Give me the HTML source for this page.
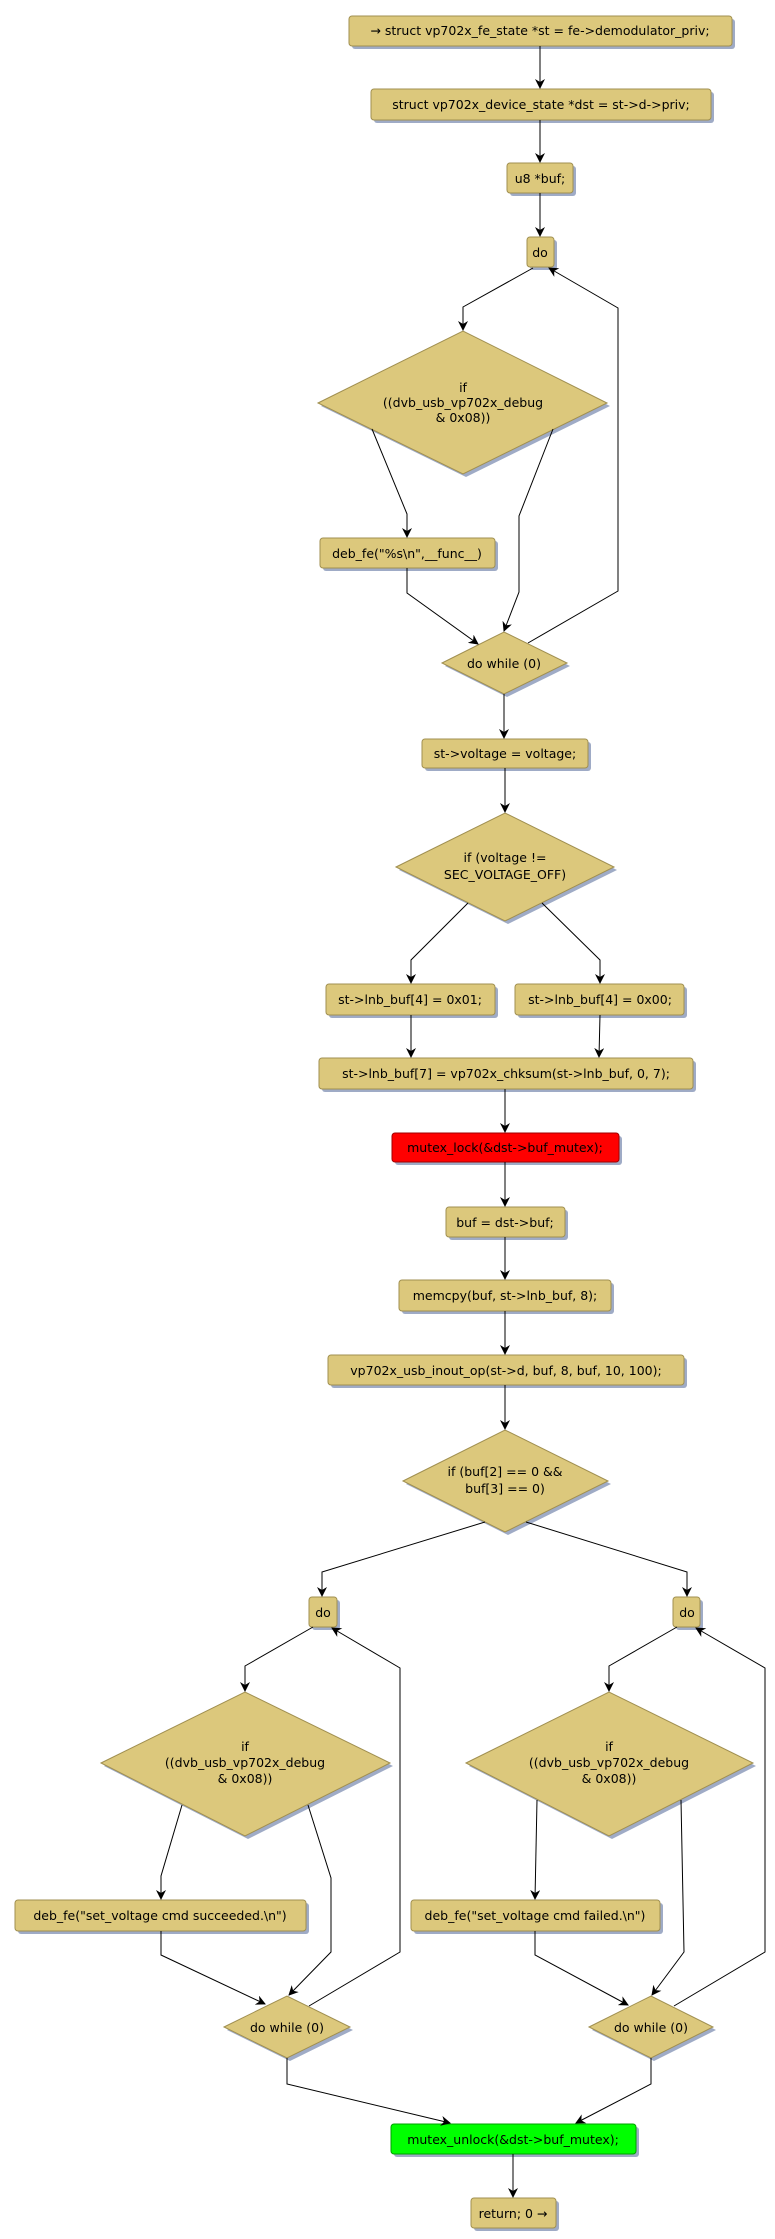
<!DOCTYPE html>
<html><head><meta charset="utf-8"><style>
html,body{margin:0;padding:0;background:#fff}
svg{display:block}
text{font-family:"DejaVu Sans","Liberation Sans",sans-serif;font-size:12.5px;fill:#000;text-anchor:middle}
.b{fill:#dcc87c;stroke:#a08f50;stroke-width:1}
.s{fill:#9fabc6}
.l{fill:none;stroke:#000;stroke-width:1}
</style></head><body>
<svg width="775" height="2239" viewBox="0 0 775 2239" xmlns="http://www.w3.org/2000/svg">
<defs><marker id="a" markerWidth="10" markerHeight="10" refX="9" refY="5" orient="auto" markerUnits="userSpaceOnUse"><path d="M0,0 L10,5 L0,10 L3,5 z" fill="#000"/></marker></defs>

<!-- boxes: shadow then box -->
<g>
<rect class="s" x="352" y="19" width="383" height="30" rx="3"/><rect class="b" x="349" y="16" width="383" height="30" rx="3"/><text x="540" y="35">→ struct vp702x_fe_state *st = fe-&gt;demodulator_priv;</text>
<rect class="s" x="374" y="92" width="340" height="31" rx="3"/><rect class="b" x="371" y="89" width="340" height="31" rx="3"/><text x="541" y="109">struct vp702x_device_state *dst = st-&gt;d-&gt;priv;</text>
<rect class="s" x="510" y="166" width="66" height="30" rx="3"/><rect class="b" x="507" y="163" width="66" height="30" rx="3"/><text x="540" y="183">u8 *buf;</text>
<rect class="s" x="530" y="240" width="27" height="30" rx="3"/><rect class="b" x="527" y="237" width="27" height="30" rx="3"/><text x="540" y="257">do</text>

<polygon class="s" points="321,406 466,334 610,406 466,477"/><polygon class="b" points="318,403 463,331 607,403 463,474"/>
<text x="463" y="392">if</text><text x="463" y="407">((dvb_usb_vp702x_debug</text><text x="463" y="422">&amp; 0x08))</text>

<rect class="s" x="323" y="541" width="175" height="30" rx="3"/><rect class="b" x="320" y="538" width="175" height="30" rx="3"/><text x="407" y="558">deb_fe("%s\n",__func__)</text>

<polygon class="s" points="445,666 507,635 570,666 507,697"/><polygon class="b" points="442,663 504,632 567,663 504,694"/><text x="504" y="668">do while (0)</text>

<rect class="s" x="425" y="742" width="166" height="29" rx="3"/><rect class="b" x="422" y="739" width="166" height="29" rx="3"/><text x="505" y="758">st-&gt;voltage = voltage;</text>

<polygon class="s" points="399,870 508,816 617,870 508,924"/><polygon class="b" points="396,867 505,813 614,867 505,921"/>
<text x="505" y="862">if (voltage !=</text><text x="505" y="879">SEC_VOLTAGE_OFF)</text>

<rect class="s" x="329" y="987" width="169" height="31" rx="3"/><rect class="b" x="326" y="984" width="169" height="31" rx="3"/><text x="410" y="1004">st-&gt;lnb_buf[4] = 0x01;</text>
<rect class="s" x="518" y="987" width="169" height="31" rx="3"/><rect class="b" x="515" y="984" width="169" height="31" rx="3"/><text x="600" y="1004">st-&gt;lnb_buf[4] = 0x00;</text>

<rect class="s" x="322" y="1061" width="374" height="31" rx="3"/><rect class="b" x="319" y="1058" width="374" height="31" rx="3"/><text x="506" y="1078">st-&gt;lnb_buf[7] = vp702x_chksum(st-&gt;lnb_buf, 0, 7);</text>

<rect class="s" x="395" y="1136" width="227" height="29" rx="3"/><rect x="392" y="1133" width="227" height="29" rx="3" fill="#ff0000" stroke="#a00000"/><text x="505" y="1152">mutex_lock(&amp;dst-&gt;buf_mutex);</text>

<rect class="s" x="449" y="1210" width="119" height="30" rx="3"/><rect class="b" x="446" y="1207" width="119" height="30" rx="3"/><text x="505" y="1227">buf = dst-&gt;buf;</text>

<rect class="s" x="402" y="1283" width="212" height="31" rx="3"/><rect class="b" x="399" y="1280" width="212" height="31" rx="3"/><text x="505" y="1300">memcpy(buf, st-&gt;lnb_buf, 8);</text>

<rect class="s" x="331" y="1358" width="356" height="30" rx="3"/><rect class="b" x="328" y="1355" width="356" height="30" rx="3"/><text x="506" y="1375">vp702x_usb_inout_op(st-&gt;d, buf, 8, buf, 10, 100);</text>

<polygon class="s" points="406,1484 508,1433 611,1484 508,1535"/><polygon class="b" points="403,1481 505,1430 608,1481 505,1532"/>
<text x="505" y="1476">if (buf[2] == 0 &amp;&amp;</text><text x="505" y="1493">buf[3] == 0)</text>

<rect class="s" x="312" y="1600" width="28" height="30" rx="3"/><rect class="b" x="309" y="1597" width="28" height="30" rx="3"/><text x="323" y="1617">do</text>
<rect class="s" x="676" y="1600" width="27" height="30" rx="3"/><rect class="b" x="673" y="1597" width="27" height="30" rx="3"/><text x="687" y="1617">do</text>

<polygon class="s" points="104,1766 248,1695 393,1766 248,1839"/><polygon class="b" points="101,1763 245,1692 390,1763 245,1836"/>
<text x="245" y="1751">if</text><text x="245" y="1767">((dvb_usb_vp702x_debug</text><text x="245" y="1783">&amp; 0x08))</text>
<polygon class="s" points="469,1766 612,1695 756,1766 612,1839"/><polygon class="b" points="466,1763 609,1692 753,1763 609,1836"/>
<text x="609" y="1751">if</text><text x="609" y="1767">((dvb_usb_vp702x_debug</text><text x="609" y="1783">&amp; 0x08))</text>

<rect class="s" x="18" y="1903" width="291" height="31" rx="3"/><rect class="b" x="15" y="1900" width="291" height="31" rx="3"/><text x="160" y="1920">deb_fe("set_voltage cmd succeeded.\n")</text>
<rect class="s" x="414" y="1903" width="249" height="31" rx="3"/><rect class="b" x="411" y="1900" width="249" height="31" rx="3"/><text x="535" y="1920">deb_fe("set_voltage cmd failed.\n")</text>

<polygon class="s" points="227,2030 290,1999 353,2030 290,2061"/><polygon class="b" points="224,2027 287,1996 350,2027 287,2058"/><text x="287" y="2032">do while (0)</text>
<polygon class="s" points="592,2030 654,1999 716,2030 654,2061"/><polygon class="b" points="589,2027 651,1996 713,2027 651,2058"/><text x="651" y="2032">do while (0)</text>

<rect class="s" x="394" y="2127" width="245" height="30" rx="3"/><rect x="391" y="2124" width="245" height="30" rx="3" fill="#00ff00" stroke="#00a000"/><text x="513" y="2144">mutex_unlock(&amp;dst-&gt;buf_mutex);</text>
<rect class="s" x="474" y="2201" width="85" height="30" rx="3"/><rect class="b" x="471" y="2198" width="85" height="30" rx="3"/><text x="513" y="2218">return; 0 →</text>
</g>

<!-- connectors -->
<g class="l" marker-end="url(#a)">
<polyline class="l" points="540,46 540,88"/>
<polyline class="l" points="540,120 540,162"/>
<polyline class="l" points="540,193 540,236"/>
<polyline class="l" points="533,268 463,307 463,330"/>
<polyline class="l" points="372,429 407,514 407,537"/>
<polyline class="l" points="553,429 519,516 519,592 504,631"/>
<polyline class="l" points="407,568 407,593 478,644"/>
<polyline class="l" points="528,643 618,591 618,308 549,268"/>
<polyline class="l" points="504,694 504,738"/>
<polyline class="l" points="505,768 505,812"/>
<polyline class="l" points="468,903 411,960 411,983"/>
<polyline class="l" points="542,903 600,960 600,983"/>
<polyline class="l" points="411,1015 411,1057"/>
<polyline class="l" points="600,1015 599,1057"/>
<polyline class="l" points="505,1089 505,1132"/>
<polyline class="l" points="505,1162 505,1206"/>
<polyline class="l" points="505,1237 505,1279"/>
<polyline class="l" points="505,1311 505,1354"/>
<polyline class="l" points="505,1385 505,1429"/>
<polyline class="l" points="485,1522 322,1572 322,1596"/>
<polyline class="l" points="526,1522 687,1572 687,1596"/>
<polyline class="l" points="313,1627 245,1666 245,1691"/>
<polyline class="l" points="677,1627 609,1666 609,1691"/>
<polyline class="l" points="182,1805 161,1876 161,1899"/>
<polyline class="l" points="308,1805 331,1878 331,1952 289,1995"/>
<polyline class="l" points="161,1931 161,1955 265,2004"/>
<polyline class="l" points="309,2006 400,1952 400,1668 332,1628"/>
<polyline class="l" points="537,1800 535,1899"/>
<polyline class="l" points="681,1800 684,1952 652,1995"/>
<polyline class="l" points="535,1931 535,1955 628,2005"/>
<polyline class="l" points="674,2006 765,1952 765,1668 696,1628"/>
<polyline class="l" points="287,2058 287,2084 450,2123"/>
<polyline class="l" points="651,2058 651,2084 576,2123"/>
<polyline class="l" points="513,2154 513,2197"/>
</g>
</svg>
</body></html>
